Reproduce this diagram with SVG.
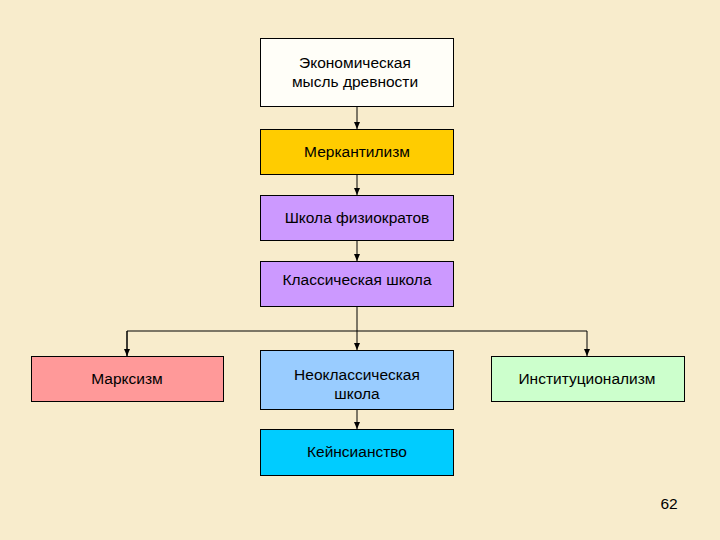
<svg xmlns="http://www.w3.org/2000/svg" width="720" height="540" viewBox="0 0 720 540">
<defs>
<marker id="arr" markerWidth="8" markerHeight="8" refX="7" refY="4" orient="auto" markerUnits="userSpaceOnUse">
<path d="M0,1 L7,4 L0,7 Z" fill="#000"/>
</marker>
</defs>
<style>
.box{stroke:#000;stroke-width:1}
.t{font-family:"Liberation Sans",Arial,sans-serif;font-size:15.5px;fill:#000;text-anchor:middle}
.c{stroke:#000;stroke-width:1;fill:none}
</style>
<rect width="720" height="540" fill="#F8ECCC"/>
<g id="connectors">
<line class="c" x1="357" y1="106" x2="357" y2="129" marker-end="url(#arr)"/>
<line class="c" x1="357" y1="174" x2="357" y2="195" marker-end="url(#arr)"/>
<line class="c" x1="357" y1="240" x2="357" y2="261" marker-end="url(#arr)"/>
<line class="c" x1="357" y1="306" x2="357" y2="350" marker-end="url(#arr)"/>
<polyline class="c" points="127,356 127,331 587,331 587,356" marker-end="url(#arr)"/>
<line class="c" x1="127" y1="331" x2="127" y2="356" marker-end="url(#arr)"/>
<line class="c" x1="357" y1="409" x2="357" y2="429" marker-end="url(#arr)"/>
</g>
<g id="n1"><rect class="box" x="260.5" y="38.5" width="193" height="68" fill="#FFFEF8"/>
<text class="t" x="355" y="68">Экономическая</text><text class="t" x="355" y="87">мысль древности</text></g>
<g id="n2"><rect class="box" x="260.5" y="129.5" width="193" height="45" fill="#FFCC00"/>
<text class="t" x="357" y="157">Меркантилизм</text></g>
<g id="n3"><rect class="box" x="260.5" y="195.5" width="193" height="45" fill="#CC99FF"/>
<text class="t" x="357" y="223">Школа физиократов</text></g>
<g id="n4"><rect class="box" x="260.5" y="261.5" width="193" height="45" fill="#CC99FF"/>
<text class="t" x="357" y="285">Классическая школа</text></g>
<g id="n5"><rect class="box" x="31.5" y="356.5" width="192" height="45" fill="#FF9999"/>
<text class="t" x="127" y="384">Марксизм</text></g>
<g id="n6"><rect class="box" x="260.5" y="350.5" width="193" height="59" fill="#99CCFF"/>
<text class="t" x="357" y="380">Неоклассическая</text><text class="t" x="357" y="399">школа</text></g>
<g id="n7"><rect class="box" x="491.5" y="356.5" width="193" height="45" fill="#CCFFCC"/>
<text class="t" x="587" y="384">Институционализм</text></g>
<g id="n8"><rect class="box" x="260.5" y="429.5" width="193" height="46" fill="#00CCFF"/>
<text class="t" x="357" y="457">Кейнсианство</text></g>
<text class="t" x="669" y="509">62</text>
</svg>
